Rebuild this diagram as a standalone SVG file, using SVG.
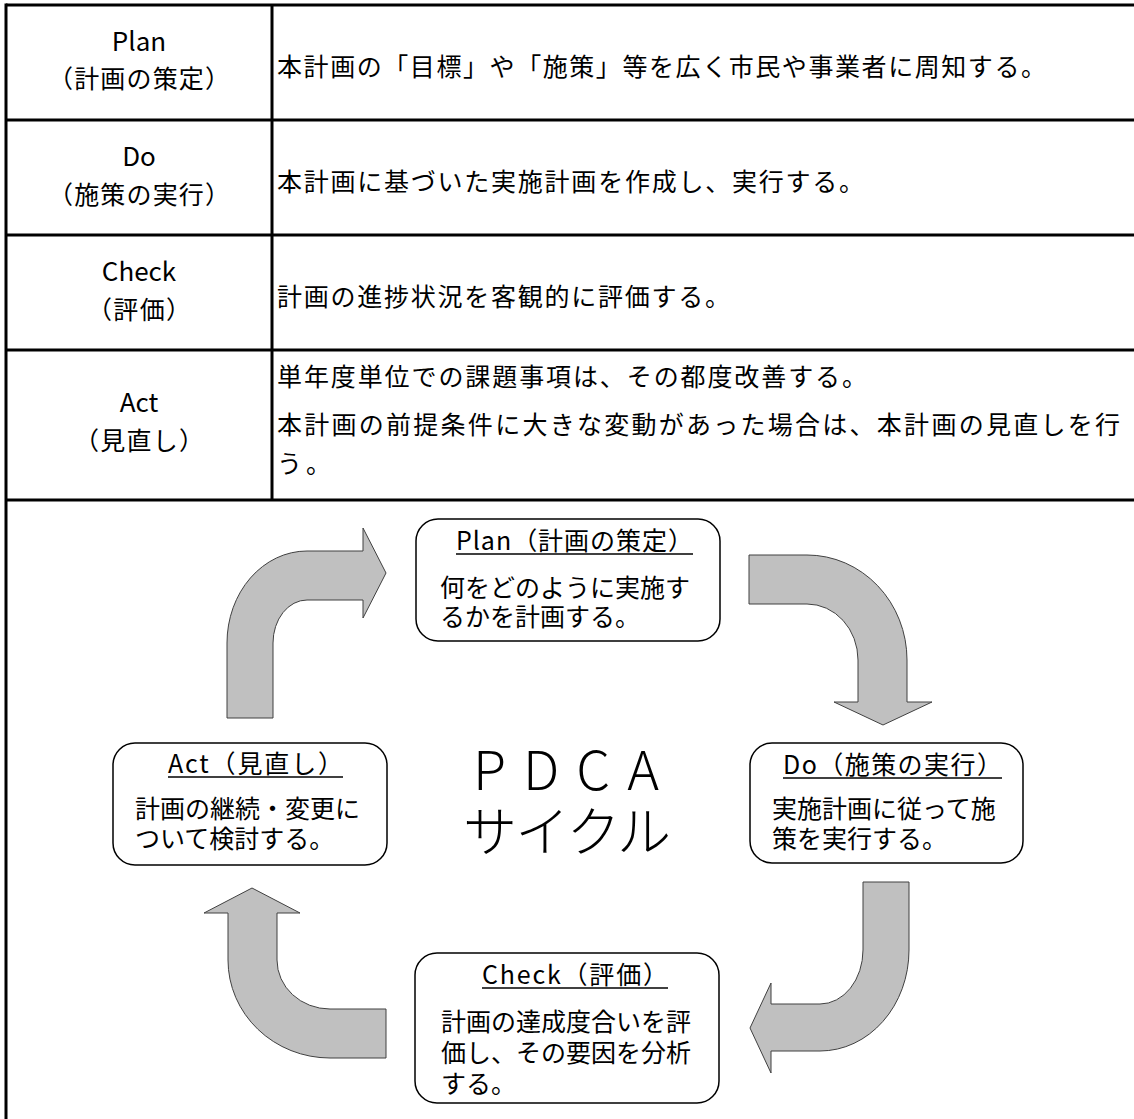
<svg xmlns="http://www.w3.org/2000/svg" width="1134" height="1119" viewBox="0 0 1134 1119">
<style>
text { font-family: "Noto Sans CJK JP", "Noto Sans", sans-serif; fill: #000; text-spacing-trim: space-all; }
.grid { stroke: #000; stroke-width: 3; fill: none; }
.lat { font-size: 26px; text-anchor: middle; }
.jp { font-size: 25px; text-anchor: middle; }
.cell { font-size: 25px; }
.box { fill: #fff; stroke: #000; stroke-width: 1.5; }
.ttl { font-size: 25px; }
.ul { stroke: #000; stroke-width: 1.5; }
.body { font-size: 25px; }
.arrow { fill: #C0C0C0; stroke: #404040; stroke-width: 1; stroke-linejoin: miter; }
.big { font-size: 54px; font-weight: 300; }
</style>

<g id="table">
  <line class="grid" x1="6" y1="5" x2="1134" y2="5"/>
  <line class="grid" x1="6" y1="120" x2="1134" y2="120"/>
  <line class="grid" x1="6" y1="235" x2="1134" y2="235"/>
  <line class="grid" x1="6" y1="350" x2="1134" y2="350"/>
  <line class="grid" x1="6" y1="500" x2="1134" y2="500"/>
  <line class="grid" x1="6" y1="3.5" x2="6" y2="1119"/>
  <line class="grid" x1="272" y1="5" x2="272" y2="500"/>
</g>

<g id="row-plan">
  <text class="lat" x="139" y="51">Plan</text>
  <text class="jp" x="139" y="88" textLength="182">（計画の策定）</text>
  <text class="cell" x="277" y="76" textLength="769">本計画の「目標」や「施策」等を広く市民や事業者に周知する。</text>
</g>
<g id="row-do">
  <text class="lat" x="139" y="166">Do</text>
  <text class="jp" x="139" y="204" textLength="182">（施策の実行）</text>
  <text class="cell" x="277" y="191" textLength="587">本計画に基づいた実施計画を作成し、実行する。</text>
</g>
<g id="row-check">
  <text class="lat" x="139" y="281">Check</text>
  <text class="jp" x="139" y="319" textLength="104">（評価）</text>
  <text class="cell" x="277" y="306" textLength="453">計画の進捗状況を客観的に評価する。</text>
</g>
<g id="row-act">
  <text class="lat" x="139" y="412">Act</text>
  <text class="jp" x="139" y="450" textLength="130">（見直し）</text>
  <text class="cell" x="277" y="386" textLength="590">単年度単位での課題事項は、その都度改善する。</text>
  <text class="cell" x="277" y="434" textLength="843">本計画の前提条件に大きな変動があった場合は、本計画の見直しを行</text>
  <text class="cell" x="277" y="473" textLength="54">う。</text>
</g>

<g id="connectors">
  <path id="arrow-act-plan" class="arrow" d="M227,718 L227,643 A80,92 0 0 1 307,551 L363,551 L363,528 L386,573 L363,618 L363,600 L307,600 A34,43 0 0 0 273,643 L273,718 Z"/>
  <path id="arrow-plan-do" class="arrow" d="M749,555 L807,555 A100,105 0 0 1 907,660 L907,702 L932,702 L883,725 L834,702 L858,702 L858,660 A51,56 0 0 0 807,604 L749,604 Z"/>
  <path id="arrow-do-check" class="arrow" d="M863,882 L909,882 L909,950 A89,101 0 0 1 820,1051 L771,1051 L771,1073 L750,1028 L771,983 L771,1004 L820,1004 A43,54 0 0 0 863,950 Z"/>
  <path id="arrow-check-act" class="arrow" d="M386,1009 L330,1009 A53,49 0 0 1 277,960 L277,913 L300,913 L252,888 L204,913 L228,913 L228,960 A102,98 0 0 0 330,1058 L386,1058 Z"/>
</g>

<g id="node-plan">
  <rect class="box" x="416" y="519" width="304" height="122" rx="22" ry="22"/>
  <text class="ttl" x="456" y="550" textLength="237">Plan（計画の策定）</text>
  <line class="ul" x1="456" y1="554" x2="693" y2="554"/>
  <text class="body" x="440" y="597">何をどのように実施す</text>
  <text class="body" x="440" y="626">るかを計画する。</text>
</g>

<g id="node-do">
  <rect class="box" x="750" y="743" width="273" height="120" rx="22" ry="22"/>
  <text class="ttl" x="783" y="774" textLength="219">Do（施策の実行）</text>
  <line class="ul" x1="783" y1="778" x2="1002" y2="778"/>
  <text class="body" x="772" y="818">実施計画に従って施</text>
  <text class="body" x="772" y="848">策を実行する。</text>
</g>

<g id="node-act">
  <rect class="box" x="113" y="743" width="274" height="122" rx="22" ry="22"/>
  <text class="ttl" x="168" y="773" textLength="175">Act（見直し）</text>
  <line class="ul" x1="168" y1="777" x2="343" y2="777"/>
  <text class="body" x="135" y="818">計画の継続・変更に</text>
  <text class="body" x="135" y="848">ついて検討する。</text>
</g>

<g id="node-check">
  <rect class="box" x="415" y="953" width="304" height="150" rx="22" ry="22"/>
  <text class="ttl" x="482" y="984" textLength="186">Check（評価）</text>
  <line class="ul" x1="482" y1="988" x2="668" y2="988"/>
  <text class="body" x="441" y="1031">計画の達成度合いを評</text>
  <text class="body" x="441" y="1062">価し、その要因を分析</text>
  <text class="body" x="441" y="1093">する。</text>
</g>

<g id="center-label">
  <text class="big" x="473" y="790" letter-spacing="17">PDCA</text>
  <text class="big" x="463" y="852" textLength="208">サイクル</text>
</g>
</svg>
